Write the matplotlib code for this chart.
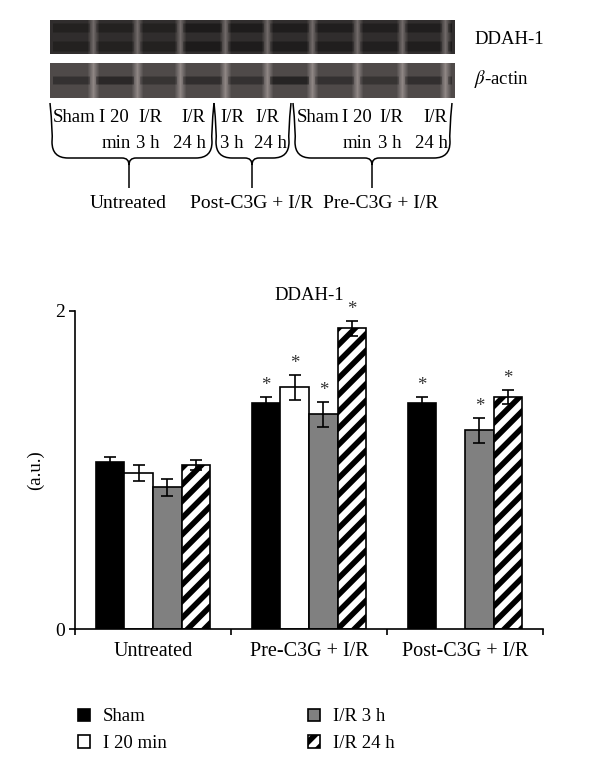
import numpy as np
import matplotlib
matplotlib.use("Agg")
import matplotlib.pyplot as plt
from matplotlib.path import Path
from matplotlib.patches import PathPatch, Patch

plt.rcParams['font.family'] = ['Liberation Serif', 'DejaVu Serif']
plt.rcParams['mathtext.fontset'] = 'stix'
plt.rcParams['hatch.linewidth'] = 4.0

# bar chart data (a.u.)
groups = ['Untreated', 'Pre-C3G + I/R', 'Post-C3G + I/R']
series = ['Sham', 'I 20 min', 'I/R 3 h', 'I/R 24 h']
sham = [1.05, 1.42, 1.42]
i20 = [0.98, 1.52, np.nan]
ir3 = [0.89, 1.35, 1.25]
ir24 = [1.03, 1.89, 1.46]
sham_err = [0.03, 0.04, 0.04]
i20_err = [0.05, 0.08, np.nan]
ir3_err = [0.055, 0.08, 0.08]
ir24_err = [0.03, 0.05, 0.045]
sham_sig = [False, True, True]
i20_sig = [False, True, False]
ir3_sig = [False, True, True]
ir24_sig = [False, True, True]

# western blot lanes
lane_labels_top = ['Sham', 'I 20', 'I/R', 'I/R', 'I/R', 'I/R', 'Sham', 'I 20', 'I/R', 'I/R']
lane_labels_bot = ['', 'min', '3 h', '24 h', '3 h', '24 h', '', 'min', '3 h', '24 h']
blot_groups = ['Untreated', 'Post-C3G + I/R', 'Pre-C3G + I/R']
ddah_lane = [0.55, 0.55, 0.55, 0.80, 0.75, 0.70, 0.65, 0.60, 0.65, 0.80]
actin_lane = [0.55, 0.75, 0.50, 0.62, 0.55, 0.85, 0.55, 0.50, 0.60, 0.58]

fig = plt.figure(figsize=(6, 7.72), dpi=100)

# ---- top panel: blot, labels and braces, drawn in pixel units ----
top = fig.add_axes([0, 0, 1, 1])
top.set_xlim(0, 600)
top.set_ylim(772, 0)
top.axis('off')

gaps = [93, 137, 180, 225, 267, 312, 357, 402, 445]
xs = np.arange(50, 455)


def lane_image(levels, rows, base, bands, depth):
    img = np.full((rows, len(xs)), base)
    edges = [50] + gaps + [455]
    for k, lv in enumerate(levels):
        a, b = edges[k], edges[k + 1]
        m = (xs >= a + 3) & (xs < b - 3)
        for (r0, r1) in bands:
            img[r0:r1, m] = base * (1 - lv * depth)
            img[r0 - 1, m] = base * (1 - lv * depth * 0.5)
            img[r1, m] = base * (1 - lv * depth * 0.5)
    for g in gaps:
        w = np.clip(1 - np.abs(xs - g) / 6.0, 0, 1)
        img = img + w[None, :] * 0.25
    return np.clip(img, 0, 1)


ddah_img = lane_image(ddah_lane, 34, 0.19, [(4, 12), (22, 31)], 0.5)
actin_img = lane_image(actin_lane, 35, 0.31, [(14, 21)], 0.6)
tint = np.array([1.0, 0.94, 0.93])
top.imshow(ddah_img[..., None] * tint, extent=(50, 455, 54, 20), aspect='auto', interpolation='bicubic')
top.imshow(actin_img[..., None] * tint, extent=(50, 455, 98, 63), aspect='auto', interpolation='bicubic')
top.text(474, 39, 'DDAH-1', fontsize=13.5, va='center')
top.text(474, 79, r'$\beta$-actin', fontsize=13.5, va='center')

label_x = [74, 114, 150, 193, 232, 267, 318, 357, 391, 435]
label_x2 = [None, 116, 148, 189, 232, 270, None, 357, 390, 431]
for k in range(len(lane_labels_top)):
    top.text(label_x[k], 118, lane_labels_top[k], fontsize=13.5, ha='center', va='center')
    if lane_labels_bot[k]:
        top.text(label_x2[k], 144, lane_labels_bot[k], fontsize=13.5, ha='center', va='center')


def brace(x0, x1, xc, y0=103, ym=158, y1=188, r=16, r2=7):
    verts = [(x0 - 2, y0), (x0 + 1, y0 + 30), (x0, ym - r), (x0, ym), (x0 + r, ym),
             (xc - r2, ym), (xc, ym), (xc, ym + r2), (xc, y1),
             (xc, ym + r2), (xc, ym), (xc + r2, ym), (x1 - r, ym),
             (x1, ym), (x1, ym - r), (x1 - 1, y0 + 30), (x1 + 2, y0)]
    codes = [Path.MOVETO, Path.CURVE3, Path.CURVE3, Path.CURVE3, Path.CURVE3,
             Path.LINETO, Path.CURVE3, Path.CURVE3, Path.LINETO,
             Path.MOVETO, Path.CURVE3, Path.CURVE3, Path.LINETO,
             Path.CURVE3, Path.CURVE3, Path.CURVE3, Path.CURVE3]
    top.add_patch(PathPatch(Path(verts, codes), fill=False, lw=1.1, color='black'))


brace(52, 212, 129)
brace(216, 289, 252)
brace(295, 450, 372)
for name, cx in zip(blot_groups, [128, 252, 381]):
    top.text(cx, 203, name, fontsize=14, ha='center', va='center')

# ---- bar chart ----
ax = fig.add_axes([0.125, 0.1852, 0.78, 0.412])
x = np.arange(len(groups))
w = 0.183
vals = [sham, i20, ir3, ir24]
errs = [sham_err, i20_err, ir3_err, ir24_err]
sigs = [sham_sig, i20_sig, ir3_sig, ir24_sig]
faces = ['black', 'white', '#808080', 'white']
hatches = [None, None, None, '//']
handles = []
for k in range(4):
    pos = x + (k - 1.5) * w
    ax.bar(pos, vals[k], w, color=faces[k], edgecolor='black', linewidth=1.2,
           hatch=hatches[k], zorder=2)
    ax.errorbar(pos, vals[k], yerr=errs[k], fmt='none', ecolor='black',
                elinewidth=1.2, capsize=4, capthick=1.2, zorder=3)
    for p, v, e, s in zip(pos, vals[k], errs[k], sigs[k]):
        if s:
            ax.text(p, v + e + 0.015, '*', fontsize=13.5, ha='center', va='bottom', color='#333333')
    handles.append(Patch(facecolor=faces[k], edgecolor='black', hatch=hatches[k], linewidth=1.2))

ax.set_xlim(-0.5, 2.5)
ax.set_ylim(0, 2)
ax.set_yticks([0, 2])
ax.set_yticklabels(['0', '2'], fontsize=14)
ax.set_xticks([-0.5, 0.5, 1.5, 2.5])
ax.set_xticklabels([])
ax.set_xticks(x, minor=True)
ax.set_xticklabels(groups, minor=True, fontsize=14.5)
ax.tick_params(axis='x', which='major', length=4, width=1.2, direction='out')
ax.tick_params(axis='x', which='minor', length=0, pad=9)
ax.tick_params(axis='y', length=4, width=1.2, direction='out', pad=3)
for s in ['top', 'right']:
    ax.spines[s].set_visible(False)
for s in ['left', 'bottom']:
    ax.spines[s].set_linewidth(1.2)
ax.set_title('DDAH-1', fontsize=13.5, pad=8)
ax.set_ylabel('(a.u.)', fontsize=13.5, labelpad=8)

fig.legend(handles, series, ncol=2, frameon=False, fontsize=13.5,
           loc='upper left', bbox_to_anchor=(0.117, 0.092),
           handlelength=0.65, handleheight=0.65, handletextpad=0.7,
           columnspacing=7.5, labelspacing=0.5, borderaxespad=0)

fig.savefig('out.png', dpi=100)
